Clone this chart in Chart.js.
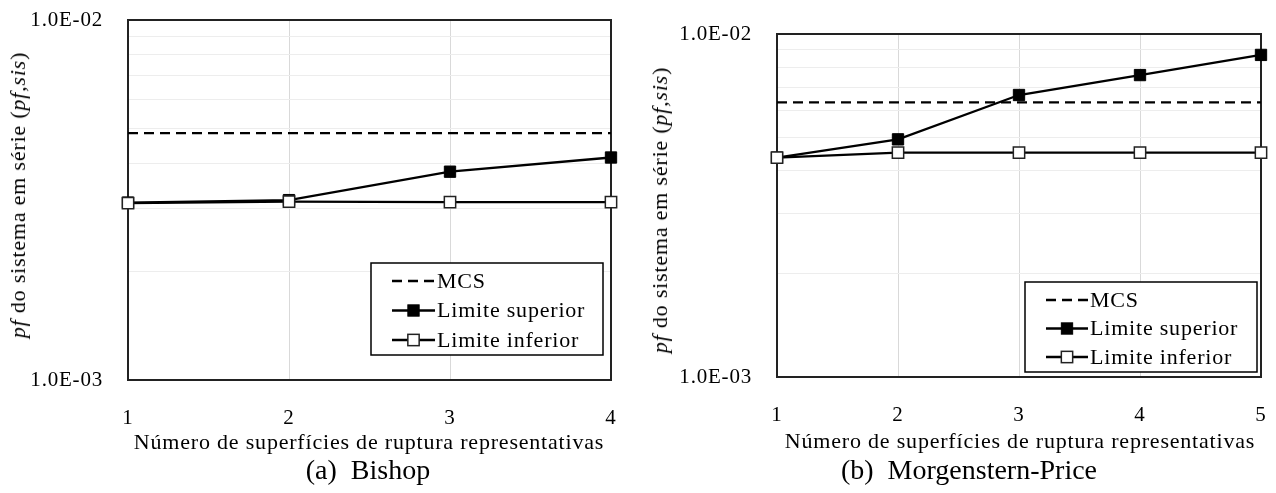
<!DOCTYPE html>
<html>
<head>
<meta charset="utf-8">
<script src="https://cdn.jsdelivr.net/npm/chart.js@4.4.1/dist/chart.umd.min.js"></script>
<style>
  body { margin: 0; background: #fff; }
  #pagina { position: relative; width: 1276px; height: 493px; overflow: hidden; font-family: 'Liberation Serif', serif; color: #000; }
  .panel { position: absolute; top: 0; }
  .txt { position: absolute; white-space: nowrap; font-size: 22px; letter-spacing: 0.8px; line-height: 1; }
  .ytit { transform: translate(-50%, -50%) rotate(-90deg); }
  .xtit { transform: translate(-50%, -50%); }
  .legenda { position: absolute; white-space: nowrap; font-size: 28px; transform: translate(-50%, -50%); line-height: 1; }
</style>
</head>
<body>
<div id="pagina">
  <canvas id="chartBishop" class="panel" style="left:0" width="640" height="455"></canvas>
  <canvas id="chartMP" class="panel" style="left:640px" width="636" height="455"></canvas>

  <div class="txt ytit" style="left:18px; top:195px"><i>pf</i> do sistema em série (<i>pf,sis</i>)</div>
  <div class="txt ytit" style="left:660px; top:210px"><i>pf</i> do sistema em série (<i>pf,sis</i>)</div>
  <div class="txt xtit" style="left:369px; top:442px">Número de superfícies de ruptura representativas</div>
  <div class="txt xtit" style="left:1020px; top:441px">Número de superfícies de ruptura representativas</div>
  <div class="legenda" style="left:368px; top:470px">(a)&nbsp; Bishop</div>
  <div class="legenda" style="left:969px; top:470px">(b)&nbsp; Morgenstern-Price</div>
</div>

<script>
// ---- datos ----
const nombresSeries = ['MCS', 'Limite superior', 'Limite inferior'];

const xBishop = ['1', '2', '3', '4'];
const mcsBishop = [4.85e-3, 4.85e-3, 4.85e-3, 4.85e-3];
const superiorBishop = [3.11e-3, 3.16e-3, 3.79e-3, 4.15e-3];
const inferiorBishop = [3.10e-3, 3.13e-3, 3.12e-3, 3.12e-3];

const xMP = ['1', '2', '3', '4', '5'];
const mcsMP = [6.32e-3, 6.32e-3, 6.32e-3, 6.32e-3, 6.32e-3];
const superiorMP = [4.36e-3, 4.93e-3, 6.64e-3, 7.59e-3, 8.69e-3];
const inferiorMP = [4.36e-3, 4.51e-3, 4.51e-3, 4.51e-3, 4.51e-3];

const yTicks = [1e-3, 2e-3, 3e-3, 4e-3, 5e-3, 6e-3, 7e-3, 8e-3, 9e-3, 1e-2];

const FUENTE = "'Liberation Serif', serif";

// 1.0E-03 estilo Excel
function formatoCientifico(v) {
    const lg = Math.log10(v);
    if (Math.abs(lg - Math.round(lg)) > 1e-9) return '';
    const partes = v.toExponential(1).split('e');
    const n = parseInt(partes[1], 10);
    return partes[0] + 'E' + (n < 0 ? '-' : '+') + String(Math.abs(n)).padStart(2, '0');
}

// marco negro alrededor del área de trazado
const marcoPlugin = {
    id: 'marco',
    beforeDraw(chart) {
        chart.ctx.letterSpacing = '0.8px';
    },
    beforeDatasetsDraw(chart) {
        const { ctx, chartArea: a } = chart;
        ctx.save();
        ctx.strokeStyle = '#222';
        ctx.lineWidth = 2;
        ctx.strokeRect(a.left, a.top, a.right - a.left, a.bottom - a.top);
        ctx.restore();
    }
};

// leyenda con recuadro dentro del área de trazado
const leyendaPlugin = {
    id: 'leyendaCaja',
    afterDraw(chart, args, opts) {
        const { ctx, chartArea: a } = chart;
        const x = a.right - opts.derecha - opts.ancho;
        const y = a.bottom - opts.abajo - opts.alto;
        ctx.save();
        ctx.fillStyle = '#fff';
        ctx.fillRect(x, y, opts.ancho, opts.alto);
        ctx.strokeStyle = '#000';
        ctx.lineWidth = 1.5;
        ctx.strokeRect(x, y, opts.ancho, opts.alto);

        chart.data.datasets.forEach((ds, i) => {
            const cy = y + opts.fila0 + i * opts.paso;
            const lx = x + opts.lineaX;
            ctx.beginPath();
            ctx.setLineDash(ds.borderDash || []);
            ctx.lineWidth = ds.borderWidth;
            ctx.strokeStyle = ds.borderColor;
            ctx.moveTo(lx, cy);
            ctx.lineTo(lx + opts.largo, cy);
            ctx.stroke();
            ctx.setLineDash([]);
            if (ds.pointRadius > 0) {
                const s = ds.pointRadius * Math.SQRT1_2;
                const mx = lx + opts.largo / 2;
                ctx.fillStyle = ds.pointBackgroundColor;
                ctx.fillRect(mx - s, cy - s, 2 * s, 2 * s);
                ctx.lineWidth = ds.pointBorderWidth;
                ctx.strokeStyle = ds.pointBorderColor;
                ctx.strokeRect(mx - s, cy - s, 2 * s, 2 * s);
            }
            ctx.fillStyle = '#000';
            ctx.font = '22px ' + FUENTE;
            ctx.letterSpacing = '0.8px';
            ctx.textBaseline = 'middle';
            ctx.textAlign = 'left';
            ctx.fillText(ds.label, x + opts.textoX, cy + 1);
        });
        ctx.restore();
    }
};

function crearSeries(mcs, sup, inf) {
    return [
        {
            label: nombresSeries[0], data: mcs, order: 3,
            borderColor: '#000', borderWidth: 2.3, borderDash: [10, 6],
            pointRadius: 0, pointHoverRadius: 0, clip: false
        },
        {
            label: nombresSeries[1], data: sup, order: 2,
            borderColor: '#000', borderWidth: 2.3,
            pointStyle: 'rect', pointRadius: 8, pointHoverRadius: 8,
            pointBackgroundColor: '#000', pointBorderColor: '#000', pointBorderWidth: 1,
            clip: false
        },
        {
            label: nombresSeries[2], data: inf, order: 1,
            borderColor: '#000', borderWidth: 2.3,
            pointStyle: 'rect', pointRadius: 8, pointHoverRadius: 8,
            pointBackgroundColor: '#fff', pointBorderColor: '#222', pointBorderWidth: 1.5,
            clip: false
        }
    ];
}

function crearGrafico(id, etiquetas, series, geo) {
    return new Chart(document.getElementById(id), {
        type: 'line',
        data: { labels: etiquetas, datasets: series },
        options: {
            responsive: false,
            animation: false,
            events: [],
            layout: { padding: { top: geo.arriba, right: geo.derecha, left: 0, bottom: 0 } },
            scales: {
                x: {
                    grid: { color: '#d9d9d9', lineWidth: 1, drawTicks: false },
                    border: { display: false },
                    ticks: { color: '#000', padding: 26, font: { family: FUENTE, size: 21 } },
                    afterFit(scale) {
                        scale.height = geo.altoX;
                        scale.paddingLeft = 0;
                        scale.paddingRight = 0;
                    }
                },
                y: {
                    type: 'logarithmic',
                    min: yTicks[0],
                    max: yTicks[yTicks.length - 1],
                    grid: { color: '#ededed', lineWidth: 1, drawTicks: false },
                    border: { display: false },
                    afterBuildTicks(scale) { scale.ticks = yTicks.map(v => ({ value: v })); },
                    ticks: {
                        color: '#000', padding: 25, autoSkip: false,
                        font: { family: FUENTE, size: 21 },
                        callback: v => formatoCientifico(v)
                    },
                    afterFit(scale) {
                        scale.width = geo.anchoY;
                        scale.paddingTop = 0;
                        scale.paddingBottom = 0;
                    }
                }
            },
            plugins: {
                legend: { display: false },
                tooltip: { enabled: false },
                leyendaCaja: geo.leyenda
            }
        },
        plugins: [marcoPlugin, leyendaPlugin]
    });
}

crearGrafico('chartBishop', xBishop, crearSeries(mcsBishop, superiorBishop, inferiorBishop), {
    arriba: 20, derecha: 29, anchoY: 128, altoX: 75,
    leyenda: { ancho: 232, alto: 92, derecha: 8, abajo: 25, fila0: 18, paso: 29.5, lineaX: 21, largo: 43, textoX: 66 }
});

crearGrafico('chartMP', xMP, crearSeries(mcsMP, superiorMP, inferiorMP), {
    arriba: 34, derecha: 15, anchoY: 137, altoX: 78,
    leyenda: { ancho: 232, alto: 90, derecha: 4, abajo: 5, fila0: 18, paso: 28.5, lineaX: 21, largo: 42, textoX: 65 }
});
</script>
</body>
</html>
